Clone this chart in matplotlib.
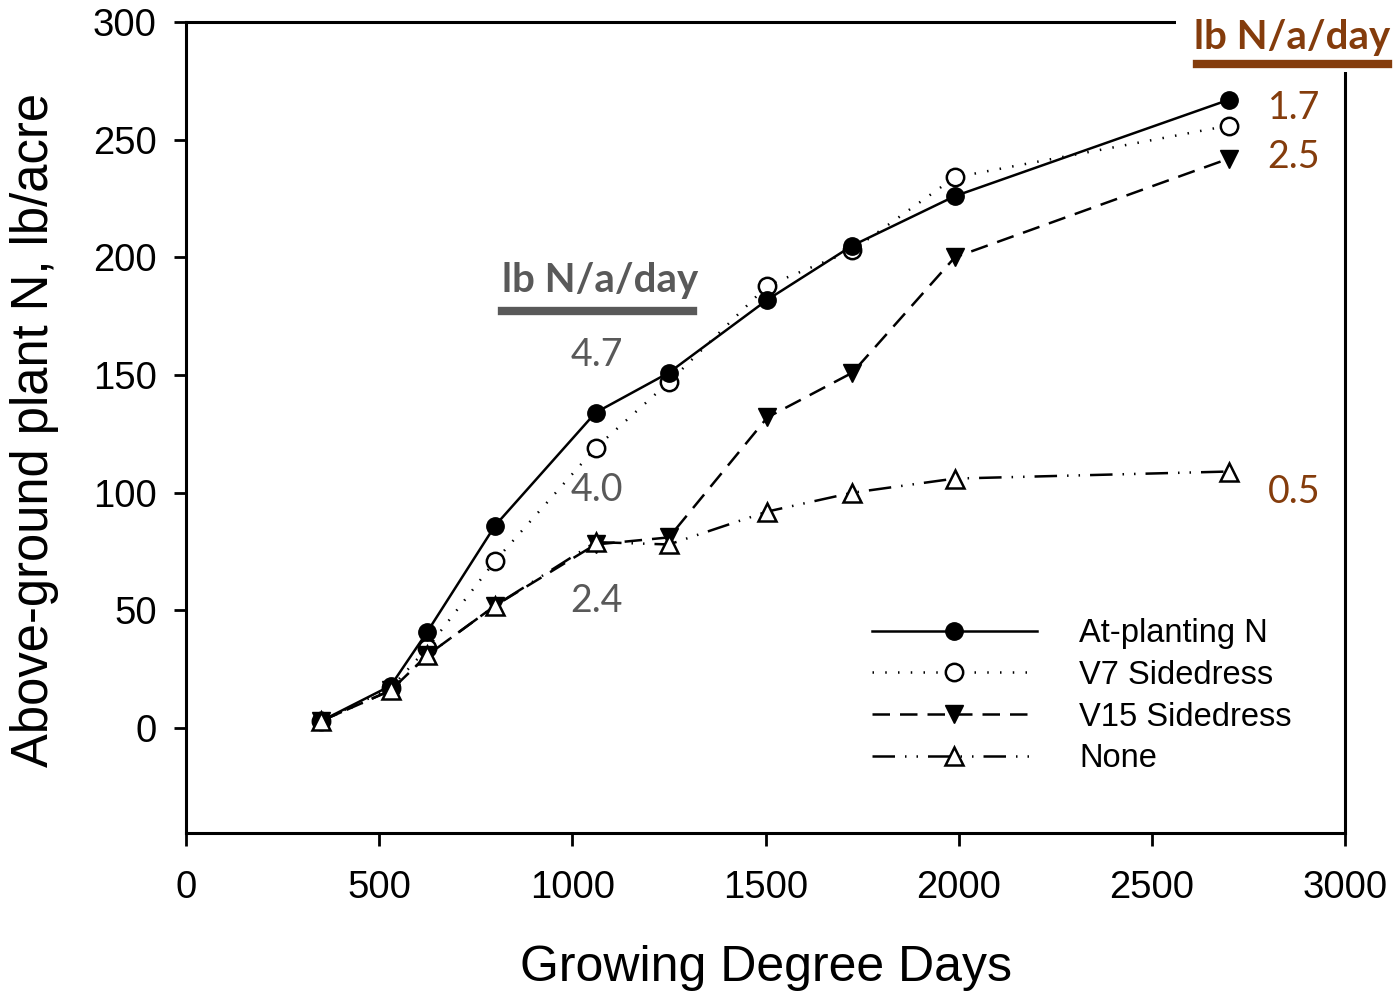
import matplotlib
matplotlib.use("Agg")
import matplotlib.pyplot as plt
from matplotlib.patches import Rectangle
from matplotlib.lines import Line2D

# ---- data ----
gdd = [350, 530, 625, 800, 1060, 1250, 1505, 1725, 1990, 2700]
at_planting = [3, 18, 41, 86, 134, 151, 182, 205, 226, 267]
v7_sidedress = [3, 17, 34, 71, 119, 147, 188, 203, 234, 256]
v15_sidedress = [3, 16, 31, 52, 78, 81, 132, 151, 200, 242]
none_n = [3, 16, 31, 52, 79, 78, 92, 100, 106, 109]
series_labels = ["At-planting N", "V7 Sidedress", "V15 Sidedress", "None"]

x_ticks = [0, 500, 1000, 1500, 2000, 2500, 3000]
y_ticks = [0, 50, 100, 150, 200, 250, 300]

early_rate_labels = ["4.7", "4.0", "2.4"]
late_rate_labels = ["1.7", "2.5", "0.5"]
rate_header = "lb N/a/day"

GREY = "#595959"
BROWN = "#843C0C"

W, H = 1395, 994
fig = plt.figure(figsize=(W / 100, H / 100), dpi=100)
ax = fig.add_axes([186 / W, 1 - 833 / H, (1345 - 186) / W, (833 - 22) / H])

sans = ["Liberation Sans", "DejaVu Sans"]
note = ["Lato", "DejaVu Sans"]

lw = 1.8
ms = 12.5
ax.plot(gdd, at_planting, color="black", lw=lw, ls="-", marker="o", ms=ms,
        mfc="black", mec="black", label=series_labels[0], zorder=4)
ax.plot(gdd, v7_sidedress, color="black", lw=lw, ls=(0, (0.6, 4.5)), marker="o", ms=ms,
        mfc="white", mec="black", mew=1.8, label=series_labels[1], zorder=3)
ax.plot(gdd, v15_sidedress, color="black", lw=lw, ls=(0, (7, 4)), marker="v", ms=ms,
        mfc="black", mec="black", label=series_labels[2], zorder=3)
ax.plot(gdd, none_n, color="black", lw=lw, ls=(0, (9, 4, 0.6, 4, 0.6, 4)), marker="^", ms=ms,
        mfc="white", mec="black", mew=1.8, label=series_labels[3], zorder=5)

ax.set_xlim(0, 3000)
ax.set_ylim(-44.6, 300)
ax.set_xticks(x_ticks)
ax.set_yticks(y_ticks)
for s in ax.spines.values():
    s.set_linewidth(2.2)
ax.tick_params(direction="out", length=9, width=2, labelsize=27.5)
ax.tick_params(axis="x", pad=18)
ax.tick_params(axis="y", pad=12)
for lab in ax.get_xticklabels() + ax.get_yticklabels():
    lab.set_family(sans)

ax.set_xlabel("Growing Degree Days", fontsize=36, family=sans, va="center")
ax.xaxis.set_label_coords(0.5, (833 - 968) / 811)
ax.set_ylabel("Above-ground plant N, lb/acre", fontsize=36.5, family=sans, va="center")
ax.yaxis.set_label_coords((35 - 186) / 1159, (833 - 430) / 811)

leg = ax.legend(loc="upper left", bbox_to_anchor=(872 / W, 1 - 618 / H),
                bbox_transform=fig.transFigure, frameon=False, borderpad=0,
                borderaxespad=0, handlelength=5.05, handletextpad=1.3,
                labelspacing=0.33, prop={"family": sans, "size": 23.5})

# white box over top-right corner
fig.add_artist(Rectangle((1176 / W, 1 - 72 / H), (W - 1176) / W, 72 / H,
                         transform=fig.transFigure, facecolor="white",
                         edgecolor="none", zorder=10))

def ft(x, y, s, **kw):
    fig.text(x / W, 1 - y / H, s, ha="center", va="center", zorder=11, **kw)

# early rates (grey)
ft(600, 280, rate_header, color=GREY, fontsize=29, fontweight="bold", family=note)
fig.add_artist(Line2D([502 / W, 693 / W], [1 - 311 / H, 1 - 311 / H],
                      color=GREY, lw=6, transform=fig.transFigure, zorder=11))
for yy, s in zip([355, 490, 601], early_rate_labels):
    ft(597, yy, s, color=GREY, fontsize=27, family=note)

# late rates (brown)
ft(1292, 37, rate_header, color=BROWN, fontsize=29, fontweight="bold", family=note)
fig.add_artist(Line2D([1197 / W, 1388 / W], [1 - 64 / H, 1 - 64 / H],
                      color=BROWN, lw=6, transform=fig.transFigure, zorder=11))
for yy, s in zip([108, 157, 492], late_rate_labels):
    ft(1294, yy, s, color=BROWN, fontsize=27, family=note)

fig.savefig("out.png", dpi=100, facecolor="white")
